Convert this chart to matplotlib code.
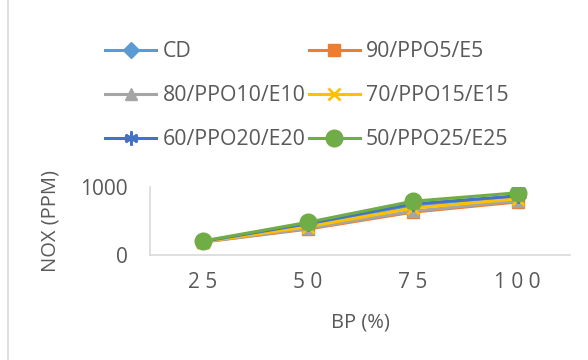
import numpy as np
import matplotlib.pyplot as plt
from matplotlib.lines import Line2D

# NOx emission vs brake power
bp = [25, 50, 75, 100]
cd = [200, 450, 730, 860]
b90 = [190, 380, 630, 780]
b80 = [190, 390, 645, 795]
b70 = [195, 415, 690, 825]
b60 = [200, 460, 750, 870]
b50 = [205, 480, 790, 915]

series = [
    ('CD', cd, '#5B9BD5', 'D', 8),
    ('90/PPO5/E5', b90, '#ED7D31', 's', 9),
    ('80/PPO10/E10', b80, '#A5A5A5', '^', 9),
    ('70/PPO15/E15', b70, '#FFC000', 'x', 9),
    ('60/PPO20/E20', b60, '#4472C4', (6, 2, 0), 10),
    ('50/PPO25/E25', b50, '#70AD47', 'o', 12),
]

plt.rcParams['font.family'] = ['Open Sans', 'DejaVu Sans']
txt = '#595959'

fig = plt.figure(figsize=(5.88, 3.6), dpi=100)
ax = fig.add_axes([150/588, 1-255/360, 420/588, 68/360])

x = np.arange(len(bp)) + 0.5
for name, vals, col, mk, ms in series:
    ax.plot(x, vals, color=col, lw=2.2, marker=mk, ms=ms, mew=2 if mk in ('x', (6, 2, 0)) else 1,
            label=name)

ax.set_xlim(0, len(bp))
ax.set_ylim(0, 1000)
ax.set_yticks([0, 1000])
ax.set_xticks(x)
ax.set_xticklabels([' '.join(str(b)) for b in bp])
ax.tick_params(length=0, colors=txt, labelsize=15)
ax.tick_params(axis='x', pad=12)
ax.tick_params(axis='y', pad=16)
for s in ['top', 'right']:
    ax.spines[s].set_visible(False)
for s in ['left', 'bottom']:
    ax.spines[s].set_color('#d9d9d9')
    ax.spines[s].set_linewidth(1.2)

ax.set_ylabel('NOX (PPM)', color=txt, fontsize=14.5, labelpad=14)
ax.set_xlabel('BP (%)', color=txt, fontsize=14.5, labelpad=14)

h, l = ax.get_legend_handles_labels()
# row-wise ordering as in the reference (matplotlib fills column-wise)
order = [0, 2, 4, 1, 3, 5]
fig.legend([h[i] for i in order], [l[i] for i in order], ncol=2, loc='upper left',
           bbox_to_anchor=(86/588, 1-22/360),
           frameon=False, fontsize=15.3, labelcolor=txt, handlelength=2.4,
           handletextpad=0.3, columnspacing=0.15, labelspacing=1.08, markerscale=1.0)

fig.add_artist(Line2D([8/588, 8/588], [0, 1], color='#d9d9d9', lw=1.2, transform=fig.transFigure))

fig.savefig('out.png', dpi=100)
